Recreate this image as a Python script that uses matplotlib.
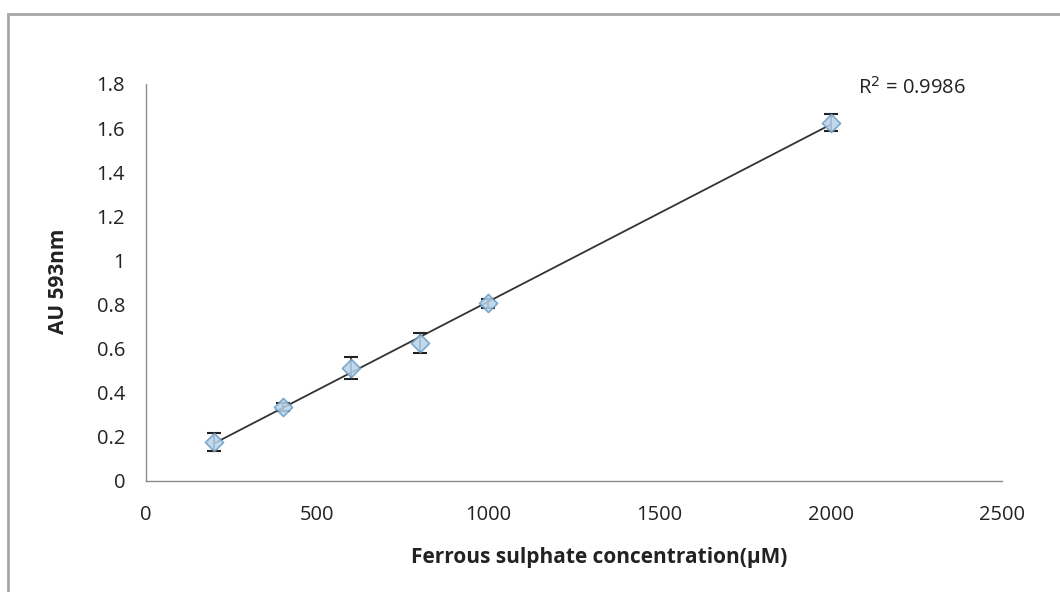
import numpy as np
import matplotlib
matplotlib.use("Agg")
import matplotlib.pyplot as plt
from matplotlib.patches import Rectangle

plt.rcParams['font.family'] = ['Open Sans', 'DejaVu Sans']

concentration = [200, 400, 600, 800, 1000, 2000]
absorbance = [0.177, 0.335, 0.512, 0.625, 0.805, 1.625]
errors = [0.040, 0.018, 0.050, 0.045, 0.020, 0.040]
r2_label = "R$^2$ = 0.9986"
x_ticks = [0, 500, 1000, 1500, 2000, 2500]
y_ticks = [0, 0.2, 0.4, 0.6, 0.8, 1.0, 1.2, 1.4, 1.6, 1.8]
y_tick_labels = ["0", "0.2", "0.4", "0.6", "0.8", "1", "1.2", "1.4", "1.6", "1.8"]

W, H = 1060, 592
fig = plt.figure(figsize=(10.6, 5.92), dpi=100)
fig.patches.append(Rectangle((8/W, -0.05), 1.1, 1 - 14/H + 0.05,
                             transform=fig.transFigure, fill=False,
                             edgecolor='#a6a6a6', linewidth=2))
L, R, T, B = 146, 1002, 84, 481
ax = fig.add_axes([L/W, 1 - B/H, (R - L)/W, (B - T)/H])

slope, intercept = np.polyfit(concentration, absorbance, 1)
xs = np.array([concentration[0], concentration[-1]])
ax.plot(xs, slope * xs + intercept, color='#333333', linewidth=1.3, zorder=2)

ax.errorbar(concentration, absorbance, yerr=errors, fmt='none',
            ecolor='#222222', elinewidth=1.2, capsize=5, capthick=1.5, zorder=3)
ax.scatter(concentration, absorbance, marker='D', s=85,
           facecolor='#b8d3ea', edgecolor='#6a9cc6', linewidth=1.2, alpha=0.85, zorder=4)

ax.set_xlim(0, 2500)
ax.set_ylim(0, 1.8)
ax.set_xticks(x_ticks)
ax.set_yticks(y_ticks)
ax.set_yticklabels(y_tick_labels)
ax.tick_params(length=0, labelsize=14.5, colors='#222222')
ax.tick_params(axis='y', pad=15)
ax.tick_params(axis='x', pad=17)
for s in ['top', 'right']:
    ax.spines[s].set_visible(False)
for s in ['left', 'bottom']:
    ax.spines[s].set_color('#8c8c8c')
    ax.spines[s].set_linewidth(1.0)

ax.set_xlabel("Ferrous sulphate concentration(μM)", fontsize=15, fontweight='bold',
              color='#222222', va='center')
ax.xaxis.set_label_coords(((599 - L) / (R - L)), (B - 557) / (B - T))
ax.set_ylabel("AU 593nm", fontsize=15, fontweight='bold', color='#222222', va='center')
ax.yaxis.set_label_coords((58 - L) / (R - L), (B - 281) / (B - T))

fig.text(858/W, 1 - 88/H, r2_label, fontsize=14.5, color='#222222',
         ha='left', va='center')

fig.savefig("out.png", dpi=100)
